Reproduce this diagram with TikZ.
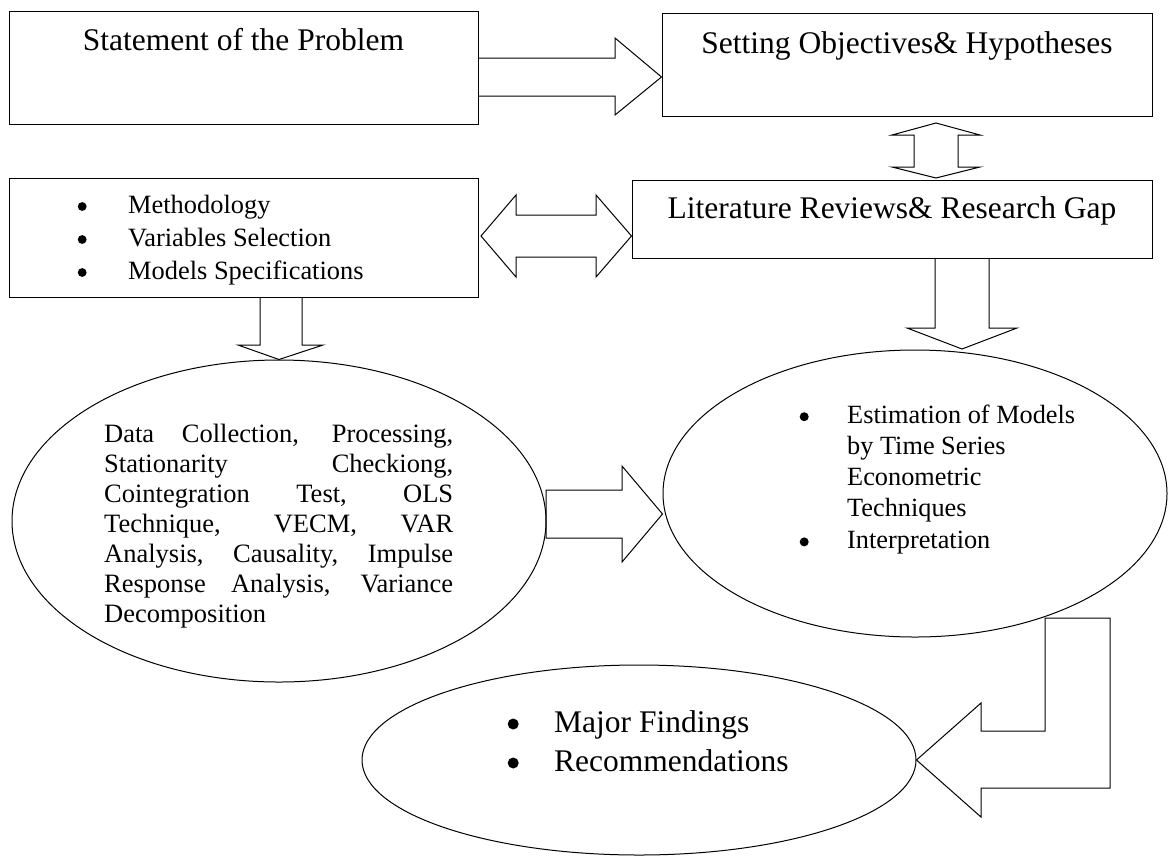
\documentclass[tikz,border=0pt]{standalone}
\usepackage{fontspec}
\setmainfont{Liberation Serif}
\usetikzlibrary{shapes.geometric}
% bullet: #1 gap to text, #2 height of centre above baseline, #3 radius
\newcommand{\lbul}[3]{\makebox[0pt]{\tikz[x=1pt,y=1pt,baseline=0pt]\fill[black] (0,#2) circle[radius=#3];}\hspace{#1}}
\tikzset{
  box/.style={draw, line width=1pt, inner sep=0pt, rectangle},
  oval/.style={draw, line width=1pt, inner sep=0pt, ellipse},
  blk/.style={draw, line width=1pt, line join=miter},
  lbl/.style={inner sep=0pt, anchor=base},
  lst/.style={inner sep=0pt, anchor=base west},
  big/.style={font=\fontsize{31.5}{36}\selectfont}
}
\begin{document}
\begin{tikzpicture}[x=1pt,y=-1pt]
\useasboundingbox (0,0) rectangle (1169,855);
\fill[white] (0,0) rectangle (1169,855);

% boxes
\node[box, minimum width=469pt, minimum height=113pt] (stmt) at (243.5,67.5) {};
\node[box, minimum width=490pt, minimum height=103pt] (setobj) at (907,64.5) {};
\node[box, minimum width=469pt, minimum height=119pt] (meth) at (243.5,237.5) {};
\node[box, minimum width=520pt, minimum height=78pt] (lit) at (892,219) {};

% ellipses
\node[oval, minimum width=534pt, minimum height=322pt] (data) at (279,521) {};
\node[oval, minimum width=504pt, minimum height=287pt] (est) at (915,493.5) {};
\node[oval, minimum width=554pt, minimum height=190pt] (find) at (639,760) {};

% texts
\node[lbl, big] (t1) at (stmt.center |- 0,50) {Statement of the Problem};
\node[lbl, big] (t2) at (setobj.center |- 0,53) {Setting Objectives\& Hypotheses};
\node[lbl, big] (t3) at (lit.center |- 0,218) {Literature Reviews\& Research Gap};

\node[lst] (t4) at (82,213) {\parbox[t]{360pt}{\fontsize{26.4}{33}\selectfont
  \lbul{46pt}{6.5}{4.4}Methodology\\
  \lbul{46pt}{6.5}{4.4}Variables Selection\\
  \lbul{46pt}{6.5}{4.4}Models Specifications}};

\node[lst] (t5) at (104,442) {\parbox[t]{349pt}{\fontsize{26.5}{30}\selectfont
  \makebox[\linewidth][s]{Data Collection, Processing,}\\
  \makebox[\linewidth][s]{Stationarity Checkiong,}\\
  \makebox[\linewidth][s]{Cointegration Test, OLS}\\
  \makebox[\linewidth][s]{Technique, VECM, VAR}\\
  \makebox[\linewidth][s]{Analysis, Causality, Impulse}\\
  \makebox[\linewidth][s]{Response Analysis, Variance}\\
  Decomposition}};

\node[lst] (t6) at (804,423) {\parbox[t]{350pt}{\fontsize{26.3}{31.3}\selectfont
  \lbul{43pt}{6.3}{4.5}Estimation of Models\\
  \hspace*{43pt}by Time Series\\
  \hspace*{43pt}Econometric\\
  \hspace*{43pt}Techniques\\
  \lbul{43pt}{6.3}{4.5}Interpretation}};

\node[lst] (t7) at (513,732) {\parbox[t]{360pt}{\fontsize{31.5}{39}\selectfont
  \lbul{41pt}{8}{5.5}Major Findings\\
  \lbul{41pt}{8}{5.5}Recommendations}};

% block arrows
% statement -> setting objectives
\draw[blk] (stmt.east |- 0,58) -- (615,58) -- (615,38) -- (setobj.west |- 0,77)
  -- (615,115) -- (615,96) -- (stmt.east |- 0,96);
% methodology <-> literature
\draw[blk] (481,236) -- (516,195) -- (516,215) -- (596,215) -- (596,195)
  -- (lit.west |- 0,236) -- (596,277) -- (596,257) -- (516,257) -- (516,277) -- cycle;
% setting objectives <-> literature
\draw[blk] (936,123) -- (980,135) -- (958,135) -- (958,167) -- (980,167)
  -- (936,178) -- (892,167) -- (914,167) -- (914,135) -- (892,135) -- cycle;
% methodology -> data collection
\draw[blk] (meth.south -| 260,0) -- (260,345) -- (238,345) -- (data.north)
  -- (323,345) -- (302,345) -- (meth.south -| 302,0);
% literature -> estimation
\draw[blk] (lit.south -| 935,0) -- (935,328) -- (907,328) -- (962,349)
  -- (1017,328) -- (989,328) -- (lit.south -| 989,0);
% data collection -> estimation
\draw[blk] (546,490) -- (622,490) -- (622,466) -- (est.west |- 0,514)
  -- (622,562) -- (622,538) -- (546,538) -- cycle;
% estimation -> findings (bent)
\draw[blk] (1045,618) -- (1110,618) -- (1110,788) -- (981,788) -- (981,817)
  -- (find.east) -- (981,703) -- (981,731) -- (1045,731) -- cycle;
\end{tikzpicture}
\end{document}
